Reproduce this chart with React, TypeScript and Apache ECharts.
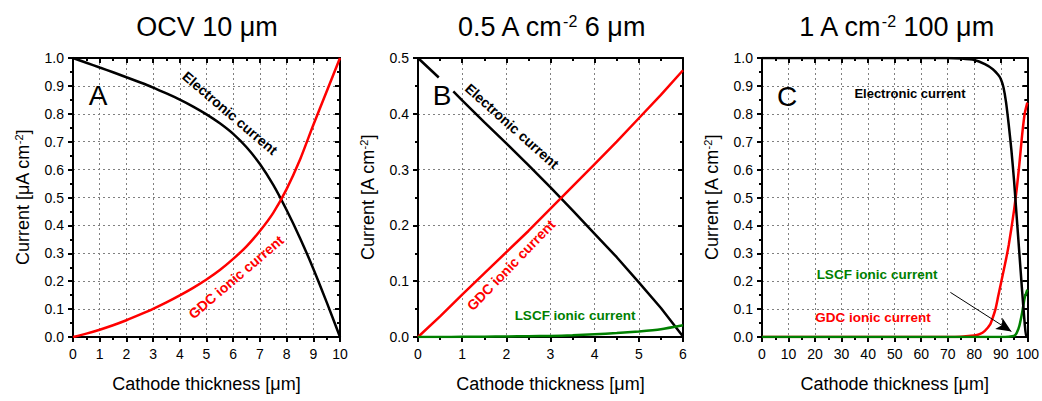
import React, { useEffect, useRef } from "react";
import * as echarts from "echarts";

const FONT = "Liberation Sans, Arial, Helvetica, sans-serif";

// Panel A: OCV 10 µm
const aX = [0, 0.5, 1, 1.5, 2, 2.5, 3, 3.5, 4, 4.5, 5, 5.5, 6, 6.5, 7, 7.5, 8, 8.5, 9, 9.5, 10];
const aElectronic = [1.0, 0.983, 0.966, 0.949, 0.931, 0.913, 0.894, 0.873, 0.851, 0.826, 0.798, 0.766, 0.728, 0.68, 0.62, 0.545, 0.455, 0.355, 0.245, 0.125, 0.0];
const aGDC = [0, 0.012, 0.026, 0.042, 0.06, 0.08, 0.101, 0.124, 0.149, 0.176, 0.206, 0.24, 0.28, 0.325, 0.38, 0.445, 0.53, 0.635, 0.76, 0.88, 1.0];

// Panel B: 0.5 A cm-2, 6 µm
const bElecX = [0, 0.47, 0.6, 0.8, 1, 1.5, 2, 2.5, 3, 3.5, 4, 4.5, 5, 5.5, 6];
const bElectronic = [0.5, 0.465, null, 0.44, 0.424, 0.385, 0.347, 0.308, 0.268, 0.227, 0.185, 0.143, 0.098, 0.052, 0.001];
const bX = [0, 0.5, 1, 1.5, 2, 2.5, 3, 3.5, 4, 4.5, 5, 5.5, 6];
const bGDC = [0, 0.037, 0.076, 0.114, 0.152, 0.19, 0.23, 0.27, 0.31, 0.35, 0.392, 0.434, 0.478];
const bLSCF = [0, 0, 0.0003, 0.0006, 0.001, 0.0015, 0.002, 0.003, 0.005, 0.007, 0.01, 0.014, 0.021];

// Panel C: 1 A cm-2, 100 µm
const cElecX = [0, 10, 20, 30, 40, 50, 60, 70, 75, 80, 84, 87, 89, 90, 91, 92, 93, 94, 95, 96, 97, 98, 99, 99.6, 100];
const cElectronic = [1, 1, 1, 1, 1, 1, 1, 1, 0.998, 0.993, 0.978, 0.96, 0.94, 0.925, 0.895, 0.84, 0.76, 0.67, 0.56, 0.43, 0.3, 0.17, 0.05, 0, 0];
const cGDCX = [0, 10, 20, 30, 40, 50, 60, 70, 75, 80, 82, 84, 86, 87, 88, 89, 90, 91, 92, 93, 94, 95, 96, 97, 98, 99, 100];
const cGDC = [0, 0, 0, 0, 0, 0, 0, 0, 0.001, 0.005, 0.01, 0.022, 0.045, 0.07, 0.1, 0.145, 0.19, 0.235, 0.28, 0.33, 0.39, 0.455, 0.53, 0.62, 0.72, 0.8, 0.84];
const cLSCFX = [0, 10, 20, 30, 40, 50, 60, 70, 80, 90, 93, 95, 96, 97, 98, 99, 100];
const cLSCF = [0, 0, 0, 0, 0, 0, 0, 0, 0, 0, 0.001, 0.004, 0.015, 0.04, 0.085, 0.14, 0.17];
const arrowFrom = [71, 0.16];
const arrowTo = [94, 0.02];

const pairs = (xs: number[], ys: (number | null)[]) =>
  xs.map((x, i) => [x, ys[i] === null ? "-" : ys[i]]);

const BLACK = "#000000";
const RED = "#ff0000";
const GREEN = "#008000";

const grids = [
  { left: 73, top: 58, width: 267, height: 279 },
  { left: 418, top: 58, width: 265, height: 279 },
  { left: 762, top: 58, width: 266, height: 279 },
];

const yNames = [
  "{n|Current [μA cm}{s|-2}{n|]}",
  "{n|Current [A cm}{s|-2}{n|]}",
  "{n|Current [A cm}{s|-2}{n|]}",
];
const xRanges = [
  [0, 10, 1],
  [0, 6, 1],
  [0, 100, 10],
];
const yRanges = [
  [0, 1, 0.1],
  [0, 0.5, 0.1],
  [0, 1, 0.1],
];

function buildAxes() {
  const xAxis: any[] = [];
  const yAxis: any[] = [];
  const lineStyle = { color: "#000", width: 2 };
  const tickStyle = { color: "#000", width: 2 };
  grids.forEach((_, i) => {
    const [xmin, xmax, xint] = xRanges[i];
    const [ymin, ymax, yint] = yRanges[i];
    xAxis.push({
      type: "value",
      gridIndex: i,
      min: xmin,
      max: xmax,
      interval: xint,
      position: "bottom",
      axisLine: { show: true, onZero: false, lineStyle },
      axisTick: { show: true, inside: false, length: 5, lineStyle: tickStyle },
      minorTick: { show: true, splitNumber: 2, length: 3, lineStyle: tickStyle },
      splitLine: { show: true, lineStyle: { color: "#808080", width: 1, type: [2, 3] } },
      axisLabel: { color: "#000", fontSize: 14, fontFamily: FONT, margin: 10 },
      name: "Cathode thickness [μm]",
      nameLocation: "middle",
      nameGap: 38,
      nameTextStyle: { color: "#000", fontSize: 18, fontFamily: FONT },
    });
    xAxis.push({
      type: "value",
      gridIndex: i,
      min: xmin,
      max: xmax,
      interval: xint,
      position: "top",
      axisLine: { show: true, onZero: false, lineStyle },
      axisTick: { show: true, inside: true, length: 5, lineStyle: tickStyle },
      minorTick: { show: true, splitNumber: 2, length: 3, lineStyle: tickStyle },
      splitLine: { show: false },
      axisLabel: { show: false },
    });
    yAxis.push({
      type: "value",
      gridIndex: i,
      min: ymin,
      max: ymax,
      interval: yint,
      position: "left",
      axisLine: { show: true, onZero: false, lineStyle },
      axisTick: { show: true, inside: false, length: 5, lineStyle: tickStyle },
      minorTick: { show: true, splitNumber: 2, length: 3, lineStyle: tickStyle },
      splitLine: { show: true, lineStyle: { color: "#808080", width: 1, type: [2, 3] } },
      axisLabel: {
        color: "#000",
        fontSize: 14,
        fontFamily: FONT,
        margin: 9,
        formatter: (v: number) => v.toFixed(1),
      },
      name: yNames[i],
      nameLocation: "middle",
      nameGap: 41,
      nameTextStyle: {
        color: "#000",
        fontFamily: FONT,
        rich: {
          n: { fontSize: 18, fontFamily: FONT, color: "#000" },
          s: { fontSize: 11, fontFamily: FONT, color: "#000", verticalAlign: "top", padding: [0, 0, 8, 0] },
        },
      },
    });
    yAxis.push({
      type: "value",
      gridIndex: i,
      min: ymin,
      max: ymax,
      interval: yint,
      position: "right",
      axisLine: { show: true, onZero: false, lineStyle },
      axisTick: { show: true, inside: true, length: 5, lineStyle: tickStyle },
      minorTick: { show: true, splitNumber: 2, length: 3, lineStyle: tickStyle },
      splitLine: { show: false },
      axisLabel: { show: false },
    });
  });
  return { xAxis, yAxis };
}

function line(name: string, idx: number, data: any[], color: string, width: number, extra: any = {}) {
  return {
    type: "line",
    name,
    xAxisIndex: idx * 2,
    yAxisIndex: idx * 2,
    data,
    symbol: "none",
    showSymbol: false,
    smooth: 0.2,
    connectNulls: false,
    lineStyle: { color, width },
    itemStyle: { color },
    z: 3,
    ...extra,
  };
}

function txt(text: string, x: number, y: number, color: string, size: number, rotationDeg = 0, bold = true) {
  return {
    type: "text",
    x,
    y,
    rotation: (rotationDeg * Math.PI) / 180,
    z: 50,
    style: {
      text,
      fill: color,
      fontSize: size,
      fontWeight: bold ? "bold" : "normal",
      fontFamily: FONT,
      align: "center",
      verticalAlign: "middle",
    },
  };
}

function title(text: string, x: number) {
  return {
    type: "text",
    x,
    y: 27,
    z: 50,
    style: {
      text,
      fill: "#000",
      fontFamily: FONT,
      fontSize: 27,
      align: "center",
      verticalAlign: "middle",
      rich: {
        t: { fontSize: 27, fontFamily: FONT, fill: "#000" },
        s: { fontSize: 16, fontFamily: FONT, fill: "#000", verticalAlign: "top", padding: [0, 0, 12, 0] },
      },
    },
  };
}

export default function App() {
  const ref = useRef<HTMLDivElement>(null);
  useEffect(() => {
    if (!ref.current) return;
    const chart = echarts.init(ref.current, undefined, { renderer: "svg" });
    const { xAxis, yAxis } = buildAxes();
    const option: any = {
      animation: false,
      backgroundColor: "#ffffff",
      grid: grids.map((g) => ({ ...g, containLabel: false })),
      xAxis,
      yAxis,
      series: [
        line("A Electronic", 0, pairs(aX, aElectronic), BLACK, 2.5),
        line("A GDC", 0, pairs(aX, aGDC), RED, 2.5),
        line("B Electronic", 1, pairs(bElecX, bElectronic), BLACK, 2.5, { smooth: false }),
        line("B GDC", 1, pairs(bX, bGDC), RED, 2.5, { smooth: false }),
        line("B LSCF", 1, pairs(bX, bLSCF), GREEN, 2.5),
        line("C GDC", 2, pairs(cGDCX, cGDC), RED, 2.5),
        line("C LSCF", 2, pairs(cLSCFX, cLSCF), GREEN, 2.5, {
          markLine: {
            silent: true,
            symbol: ["none", "arrow"],
            symbolSize: [10, 15],
            label: { show: false },
            lineStyle: { color: "#000", width: 1, type: "solid" },
            data: [[{ coord: arrowFrom }, { coord: arrowTo }]],
          },
        }),
        line("C Electronic", 2, pairs(cElecX, cElectronic), BLACK, 2.5),
      ],
      graphic: [
        title("{t|OCV 10 μm}", 207),
        title("{t|0.5 A cm}{s|-2}{t| 6 μm}", 551),
        title("{t|1 A cm}{s|-2}{t| 100 μm}", 896),
        txt("A", 98, 95, "#000", 28, 0, false),
        txt("B", 442, 95, "#000", 28, 0, false),
        txt("C", 787, 96, "#000", 28, 0, false),
        txt("Electronic current", 230, 113, BLACK, 14, -40.5),
        txt("GDC ionic current", 236, 277, RED, 14, 40.5),
        txt("Electronic current", 512, 126, BLACK, 14, -41.7),
        txt("GDC ionic current", 511, 265, RED, 14, 46),
        txt("LSCF ionic current", 575, 315, GREEN, 13.5),
        txt("Electronic current", 910, 93, BLACK, 13),
        txt("LSCF ionic current", 877, 274, GREEN, 13.5),
        txt("GDC ionic current", 873, 317, RED, 13.5),
      ],
    };
    chart.setOption(option);
    return () => chart.dispose();
  }, []);
  return (
    <div
      ref={ref}
      style={{ position: "absolute", left: 0, top: 0, width: 1042, height: 401, background: "#fff" }}
    />
  );
}
